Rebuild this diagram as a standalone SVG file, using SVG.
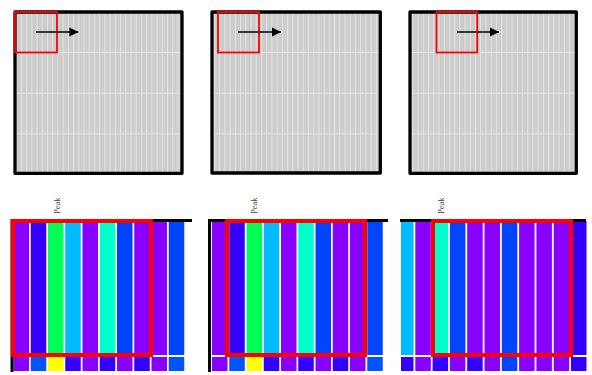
<svg xmlns="http://www.w3.org/2000/svg" width="592" height="375" viewBox="0 0 592 375">
<style>
.frame{fill:url(#grid);stroke:#000;stroke-width:3.3;stroke-linejoin:round}
.view{fill:none;stroke:#ff0000;stroke-width:1.8}
.axis{stroke:#000;stroke-width:3;fill:none}
.hl{fill:none;stroke:#ff0000;stroke-width:4}
.peak{font-family:"Liberation Serif",serif;font-size:8.5px;fill:#444}
.p{fill:#8800ff}.i{fill:#3300ff}.g{fill:#00ff55}.c{fill:#00bbff}.t{fill:#00ffcc}.b{fill:#0044ff}.cb{fill:#0055ff}.y{fill:#ffff00}
.arrow{stroke:#000;stroke-width:1.3;fill:none}
</style>
<defs>
<pattern id="grid" patternUnits="userSpaceOnUse" x="0" y="11.3" width="5.22" height="40.7">
<rect width="5.22" height="40.7" fill="#cccccc"/>
<line x1="0.5" y1="0" x2="0.5" y2="40.7" stroke="#e4e4e4" stroke-width="1"/>
<line x1="0" y1="0.4" x2="5.22" y2="0.4" stroke="#eaeaea" stroke-width="0.9"/>
</pattern>
<marker id="ah" viewBox="0 0 10 10" refX="10" refY="5" markerWidth="9" markerHeight="11" markerUnits="userSpaceOnUse" orient="auto">
<path d="M0,0 L10,5 L0,10 z" fill="#000"/>
</marker>
</defs>

<g id="overview-1">
<rect class="frame" x="15" y="12" width="167" height="161.3"/>
<rect class="view" x="15" y="12" width="42" height="40.5"/>
</g>
<g id="overview-2">
<rect class="frame" x="212" y="12" width="168.3" height="161"/>
<rect class="view" x="218" y="12" width="41" height="40.5"/>
</g>
<g id="overview-3">
<rect class="frame" x="410" y="12" width="166.3" height="161.3"/>
<rect class="view" x="436.5" y="12" width="40.7" height="40.5"/>
</g>

<g id="connectors">
<line class="arrow" x1="36" y1="32" x2="78.3" y2="32" marker-end="url(#ah)"/>
<line class="arrow" x1="238" y1="32" x2="281" y2="32" marker-end="url(#ah)"/>
<line class="arrow" x1="457" y1="32" x2="499" y2="32" marker-end="url(#ah)"/>
</g>

<g id="detail-1">
<g>
<rect class="p" x="13.5" y="221" width="15.5" height="134"/>
<rect class="i" x="30.75" y="221" width="15.5" height="134"/>
<rect class="g" x="48" y="221" width="15.5" height="134"/>
<rect class="c" x="65.25" y="221" width="15.5" height="134"/>
<rect class="p" x="82.5" y="221" width="15.5" height="134"/>
<rect class="t" x="99.75" y="221" width="15.5" height="134"/>
<rect class="b" x="117" y="221" width="15.5" height="134"/>
<rect class="p" x="134.25" y="221" width="15.5" height="134"/>
<rect class="p" x="151.5" y="221" width="15.5" height="134"/>
<rect class="b" x="168.75" y="221" width="15.5" height="134"/>
</g>
<g>
<rect class="p" x="13.5" y="357" width="15.5" height="14"/>
<rect class="cb" x="30.75" y="357" width="15.5" height="14"/>
<rect class="y" x="48" y="357" width="15.5" height="14"/>
<rect class="i" x="65.25" y="357" width="15.5" height="14"/>
<rect class="p" x="82.5" y="357" width="15.5" height="14"/>
<rect class="i" x="99.75" y="357" width="15.5" height="14"/>
<rect class="p" x="117" y="357" width="15.5" height="14"/>
<rect class="i" x="134.25" y="357" width="15.5" height="14"/>
<rect class="p" x="151.5" y="357" width="15.5" height="14"/>
<rect class="cb" x="168.75" y="357" width="15.5" height="14"/>
</g>
<path class="axis" d="M12,372 V220.5 H192"/>
<rect class="hl" x="13" y="221" width="138" height="134"/>
<text class="peak" transform="translate(60,214) rotate(-90)">Peak</text>
</g>

<g id="detail-2">
<g>
<rect class="p" x="212" y="221" width="15.5" height="134"/>
<rect class="i" x="229.25" y="221" width="15.5" height="134"/>
<rect class="g" x="246.5" y="221" width="15.5" height="134"/>
<rect class="c" x="263.75" y="221" width="15.5" height="134"/>
<rect class="p" x="281" y="221" width="15.5" height="134"/>
<rect class="t" x="298.25" y="221" width="15.5" height="134"/>
<rect class="b" x="315.5" y="221" width="15.5" height="134"/>
<rect class="p" x="332.75" y="221" width="15.5" height="134"/>
<rect class="p" x="350" y="221" width="15.5" height="134"/>
<rect class="b" x="367.25" y="221" width="15.5" height="134"/>
</g>
<g>
<rect class="p" x="212" y="357" width="15.5" height="14"/>
<rect class="cb" x="229.25" y="357" width="15.5" height="14"/>
<rect class="y" x="246.5" y="357" width="15.5" height="14"/>
<rect class="i" x="263.75" y="357" width="15.5" height="14"/>
<rect class="p" x="281" y="357" width="15.5" height="14"/>
<rect class="i" x="298.25" y="357" width="15.5" height="14"/>
<rect class="p" x="315.5" y="357" width="15.5" height="14"/>
<rect class="i" x="332.75" y="357" width="15.5" height="14"/>
<rect class="p" x="350" y="357" width="15.5" height="14"/>
<rect class="cb" x="367.25" y="357" width="15.5" height="14"/>
</g>
<path class="axis" d="M209.5,372 V220.5 H388"/>
<rect class="hl" x="227" y="221" width="138" height="134"/>
<text class="peak" transform="translate(257,214) rotate(-90)">Peak</text>
</g>

<g id="detail-3">
<g>
<rect class="c" x="401" y="221" width="12.5" height="134"/>
<rect class="p" x="415.3" y="221" width="15.5" height="134"/>
<rect class="t" x="432.6" y="221" width="15.5" height="134"/>
<rect class="b" x="449.9" y="221" width="15.5" height="134"/>
<rect class="p" x="467.2" y="221" width="15.5" height="134"/>
<rect class="p" x="484.5" y="221" width="15.5" height="134"/>
<rect class="b" x="501.8" y="221" width="15.5" height="134"/>
<rect class="p" x="519.1" y="221" width="15.5" height="134"/>
<rect class="p" x="536.4" y="221" width="15.5" height="134"/>
<rect class="p" x="553.7" y="221" width="15.5" height="134"/>
<rect class="i" x="571" y="221" width="15.5" height="134"/>
</g>
<g>
<rect class="i" x="401" y="357" width="12.5" height="14"/>
<rect class="p" x="415.3" y="357" width="15.5" height="14"/>
<rect class="i" x="432.6" y="357" width="15.5" height="14"/>
<rect class="p" x="449.9" y="357" width="15.5" height="14"/>
<rect class="i" x="467.2" y="357" width="15.5" height="14"/>
<rect class="p" x="484.5" y="357" width="15.5" height="14"/>
<rect class="b" x="501.8" y="357" width="15.5" height="14"/>
<rect class="p" x="519.1" y="357" width="15.5" height="14"/>
<rect class="p" x="536.4" y="357" width="15.5" height="14"/>
<rect class="p" x="553.7" y="357" width="15.5" height="14"/>
<rect class="i" x="571" y="357" width="15.5" height="14"/>
</g>
<path class="axis" d="M400,220.5 H586"/>
<rect class="hl" x="433" y="221" width="138" height="134"/>
<text class="peak" transform="translate(443.5,214) rotate(-90)">Peak</text>
</g>
</svg>
